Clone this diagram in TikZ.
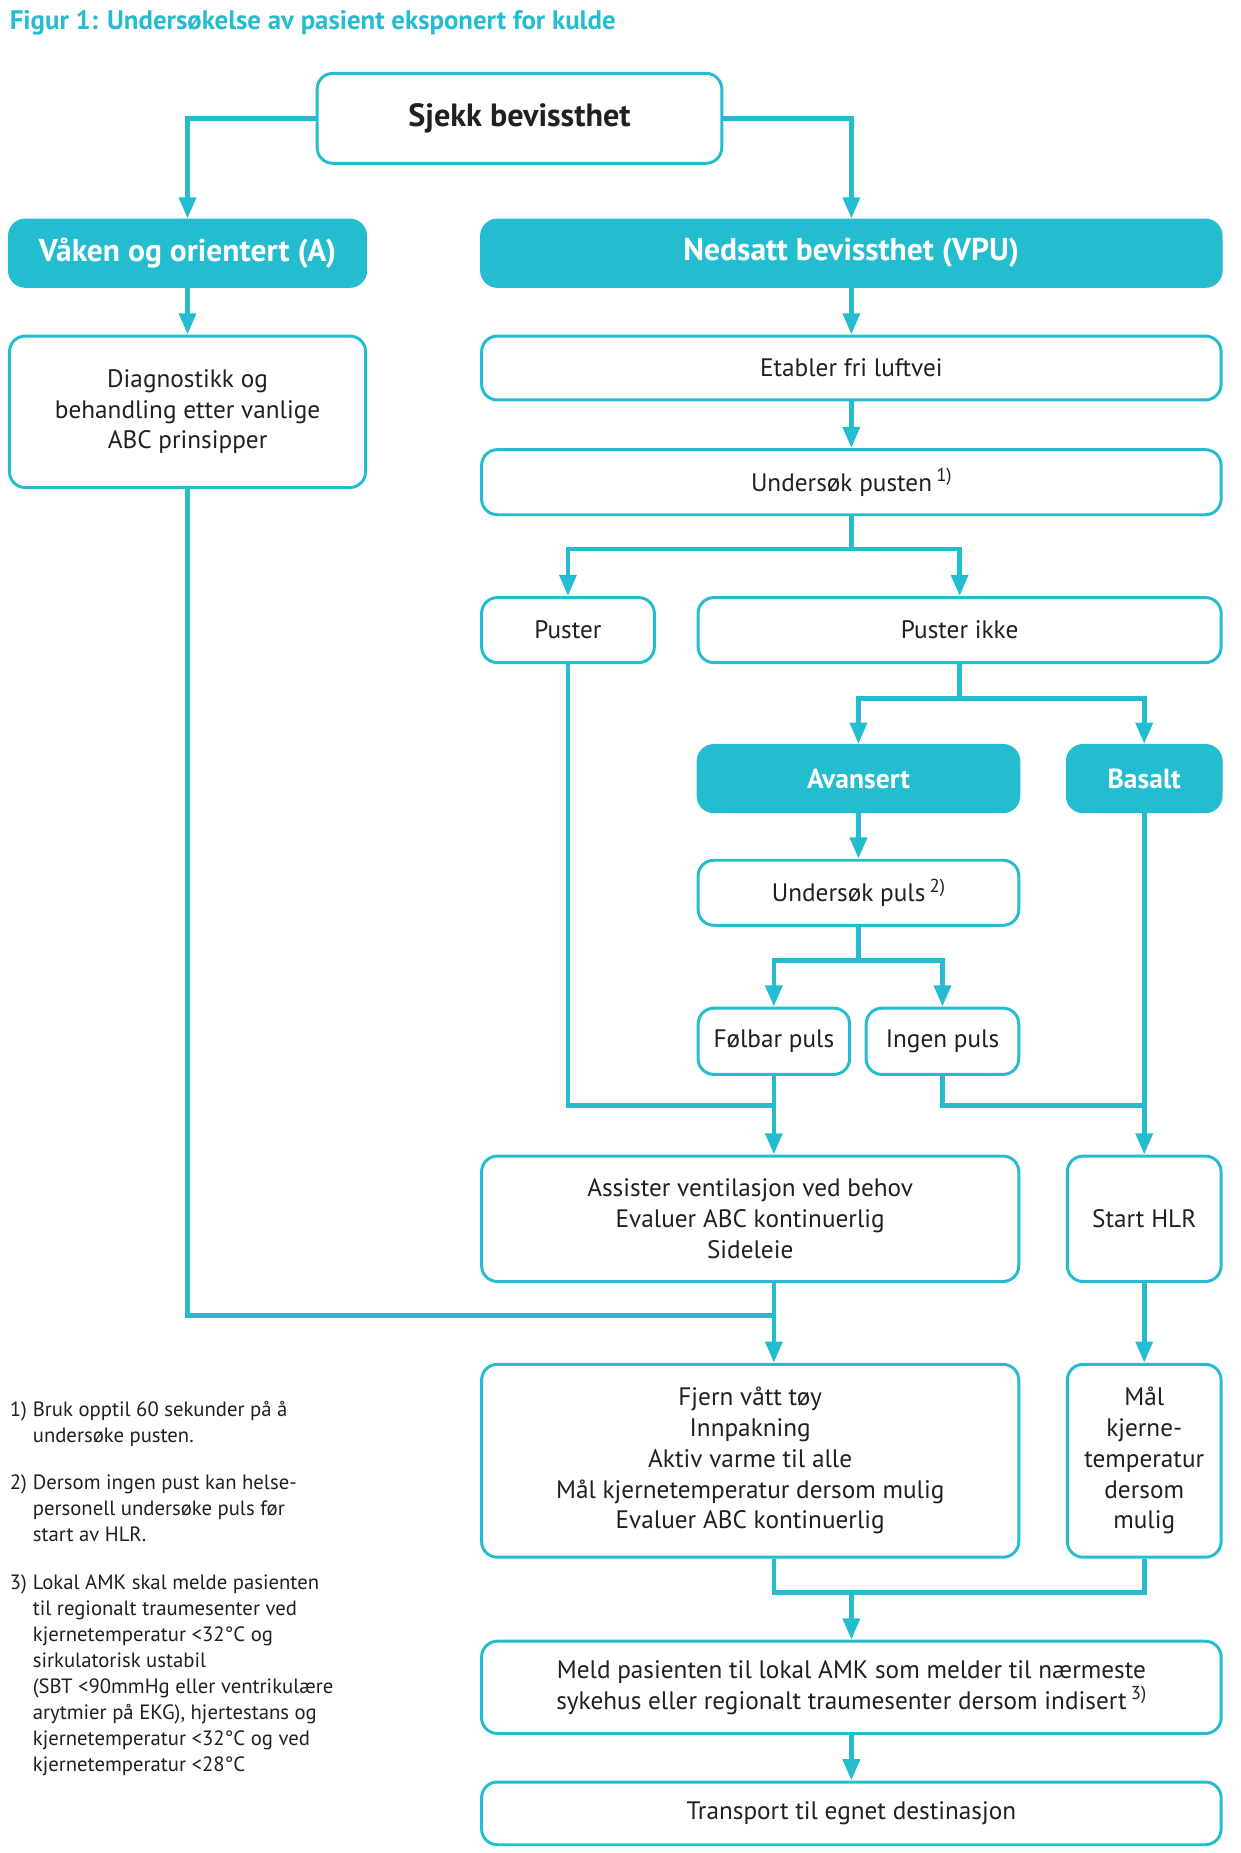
\documentclass[tikz,border=0pt]{standalone}
\usepackage{fontspec}
\setmainfont{PT Sans}
\usetikzlibrary{arrows.meta,calc}
\definecolor{teal1}{HTML}{24BDD0}
\definecolor{ink}{HTML}{231F20}
\newcommand\mkbox[7]{%
  \pgfmathsetmacro\bw{(#4-#2)*0.6}%
  \pgfmathsetmacro\bh{(#5-#3)*0.6}%
  \node[#6, minimum width=\bw pt, minimum height=\bh pt] (#1) at ({(#2+#4)/2},{(#3+#5)/2}) {#7};}
\newcommand\fnsup[1]{\,\raisebox{0.38em}{\fontsize{9.5}{10}\selectfont #1}}
\tikzset{
  box/.style={draw=teal1, line width=1.5pt, rounded corners=8pt, fill=white, align=center, inner sep=0pt, text=ink, font=\fontsize{12.8}{15.6}\selectfont},
  hdr/.style={draw=teal1, fill=teal1, line width=1.5pt, rounded corners=8pt, align=center, inner sep=0pt, text=white, font=\bfseries\fontsize{16}{18}\selectfont},
  hdrs/.style={hdr, font=\bfseries\fontsize{14}{16}\selectfont},
  conn/.style={draw=teal1, line width=2.4pt},
  arr/.style={conn, -{Triangle[width=8.4pt,length=10.8pt]}},
}
\begin{document}
\begin{tikzpicture}[x=0.6pt,y=-0.6pt]
\useasboundingbox (0,0) rectangle (1048,1566);
\node[anchor=base west, inner sep=0pt, text=teal1, font=\bfseries\fontsize{13.6}{16}\selectfont] (title) at (8,25) {Figur 1: Undersøkelse av pasient eksponert for kulde};

\mkbox{sjekk}{268}{62}{610}{138}{box, font=\bfseries\fontsize{16.3}{19}\selectfont}{Sjekk bevissthet}
\mkbox{vaken}{8}{186}{309}{242}{hdr}{Våken og orientert (A)}
\mkbox{nedsatt}{407}{186}{1032}{242}{hdr}{Nedsatt bevissthet (VPU)}
\mkbox{diag}{8}{284}{309}{412}{box}{Diagnostikk og\\behandling etter vanlige\\ABC prinsipper}
\mkbox{etabler}{407}{284}{1032}{338}{box}{Etabler fri luftvei}
\mkbox{pusten}{407}{380}{1032}{435}{box}{Undersøk pusten\fnsup{1)}}
\mkbox{puster}{407}{505}{553}{560}{box}{Puster}
\mkbox{ikke}{590}{505}{1032}{560}{box}{Puster ikke}
\mkbox{avansert}{590}{630}{861}{686}{hdrs}{Avansert}
\mkbox{basalt}{902}{630}{1032}{686}{hdrs}{Basalt}
\mkbox{puls}{590}{727}{861}{782}{box}{Undersøk puls\fnsup{2)}}
\mkbox{folbar}{590}{852}{718}{908}{box}{Følbar puls}
\mkbox{ingen}{732}{852}{861}{908}{box}{Ingen puls}
\mkbox{assister}{407}{977}{861}{1083}{box}{Assister ventilasjon ved behov\\Evaluer ABC kontinuerlig\\Sideleie}
\mkbox{hlr}{902}{977}{1032}{1083}{box}{Start HLR}
\mkbox{fjern}{407}{1153}{861}{1316}{box}{Fjern vått tøy\\Innpakning\\Aktiv varme til alle\\Mål kjernetemperatur dersom mulig\\Evaluer ABC kontinuerlig}
\mkbox{maal}{902}{1153}{1032}{1316}{box}{Mål\\kjerne-\\temperatur\\dersom\\mulig}
\mkbox{meld}{407}{1387}{1032}{1465}{box}{Meld pasienten til lokal AMK som melder til nærmeste\\sykehus eller regionalt traumesenter dersom indisert\fnsup{3)}}
\mkbox{transport}{407}{1506}{1032}{1559}{box}{Transport til egnet destinasjon}

% connectors
\draw[arr] (sjekk.west) -| (vaken.north);
\draw[arr] (sjekk.east) -| (nedsatt.north);
\draw[arr] (vaken.south) -- (diag.north);
\draw[arr] (nedsatt.south) -- (etabler.north);
\draw[arr] (etabler.south) -- (pusten.north);
\coordinate (b1) at (719.5,464);
\draw[conn] (pusten.south) -- (b1);
\draw[arr] (b1) -| (puster.north);
\draw[arr] (b1) -| (ikke.north);
\coordinate (b2) at (811,590);
\draw[conn] (ikke.south) -- (b2);
\draw[arr] (b2) -| (avansert.north);
\draw[arr] (b2) -| (basalt.north);
\draw[arr] (avansert.south) -- (puls.north);
\coordinate (b3) at (725.5,812);
\draw[conn] (puls.south) -- (b3);
\draw[arr] (b3) -| (folbar.north);
\draw[arr] (b3) -| (ingen.north);
\coordinate (j1) at (654,934);
\draw[conn] (puster.south) |- (j1);
\draw[arr] (folbar.south) -- (folbar.south |- assister.north);
\draw[conn] (ingen.south) |- (967,934);
\draw[arr] (basalt.south) -- (hlr.north);
\coordinate (j2) at (654,1112);
\draw[conn] (diag.south) |- (j2);
\draw[arr] (assister.south -| folbar.south) -- (fjern.north -| folbar.south);
\draw[arr] (hlr.south) -- (maal.north);
\coordinate (j3) at (719.5,1346);
\draw[conn] (fjern.south -| folbar.south) |- (maal.south |- j3) -- (maal.south);
\draw[arr] (j3) -- (meld.north);
\draw[arr] (meld.south) -- (transport.north);

% footnotes
\node[anchor=base west, inner sep=0pt, text=ink, font=\fontsize{10.5}{13.2}\selectfont] (notes) at (8,1197) {%
\begin{tabular}[t]{@{}l@{\hspace{3pt}}l@{}}
1) & Bruk opptil 60 sekunder på å\\
   & undersøke pusten.\\[10.8pt]
2) & Dersom ingen pust kan helse-\\
   & personell undersøke puls før\\
   & start av HLR.\\[10.8pt]
3) & Lokal AMK skal melde pasienten\\
   & til regionalt traumesenter ved\\
   & kjernetemperatur <32°C og\\
   & sirkulatorisk ustabil\\
   & (SBT <90mmHg eller ventrikulære\\
   & arytmier på EKG), hjertestans og\\
   & kjernetemperatur <32°C og ved\\
   & kjernetemperatur <28°C
\end{tabular}};
\end{tikzpicture}
\end{document}
